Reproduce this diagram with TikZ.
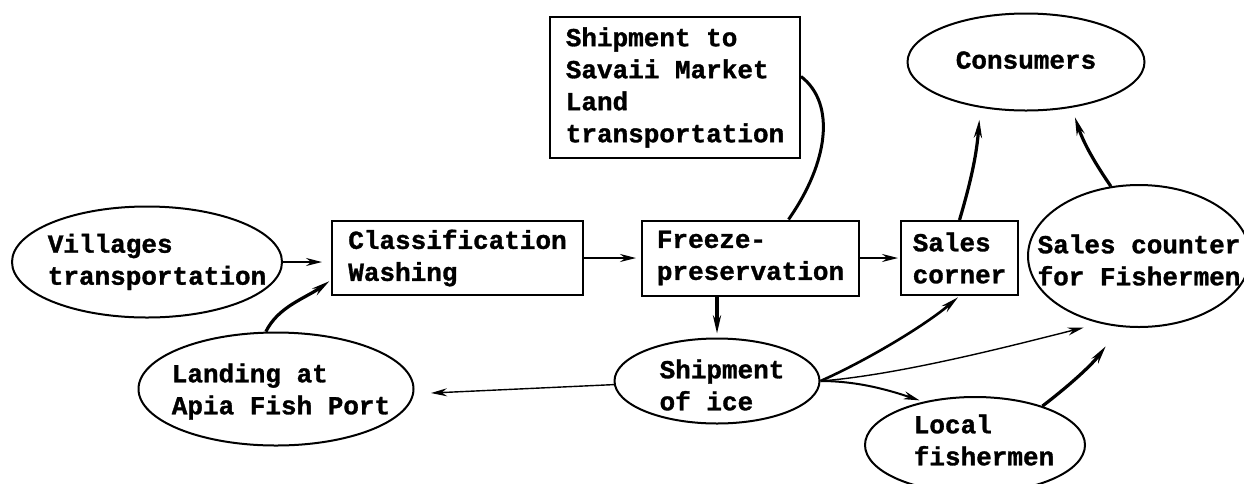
\documentclass[tikz,border=0pt]{standalone}
\usepackage{fontspec}
\setmonofont{Liberation Mono}[BoldFeatures={FakeBold=1.2}]
\usetikzlibrary{arrows.meta,positioning,shapes.geometric}
% text of an oval, kept out of the oval's size (x shift, raise, lines)
\newcommand\ovaltext[3]{\makebox[0pt]{\hspace*{#1}\raisebox{\dimexpr#2-6.5pt\relax}[0pt][0pt]{\begin{tabular}{@{}l@{}}#3\end{tabular}}}}
\tikzset{
  stage/.style={
    draw,
    line width=2pt,
    align=left,
    inner sep=0pt,
    font=\ttfamily\bfseries\fontsize{26}{32}\selectfont
  },
  oval/.style={
    ellipse,
    draw,
    line width=2pt,
    inner sep=0pt,
    font=\ttfamily\bfseries\fontsize{26}{32}\selectfont
  },
  flow/.style={
    -{Stealth[length=16pt,width=8pt]},
    line width=1.4pt
  },
  heavy/.style={
    -{Stealth[length=18pt,width=8pt]},
    line width=3.2pt
  }
}

\begin{document}
\begin{tikzpicture}[x=1pt,y=-1pt]
\useasboundingbox (0,0) rectangle (1244,483);
% main line
\node[oval, minimum width=270pt, minimum height=111pt] (villages) at (147,262) {\ovaltext{20pt}{0pt}{Villages\\transportation}};
\node[stage, minimum width=251pt, minimum height=74pt] (classif) at (457.5,258) {Classification\\Washing};
\node[stage, minimum width=217pt, minimum height=75pt, right=57pt of classif] (freeze) {Freeze-\\preservation};
\node[stage, minimum width=117pt, minimum height=74pt, right=40pt of freeze] (corner) {Sales\\corner};
\node[stage, minimum width=250pt, minimum height=141pt] (savaii) at (675,87.5) {Shipment to\\Savaii Market\\Land\\transportation};
% ovals
\node[oval, minimum width=275pt, minimum height=113pt] (landing) at (276,389) {\ovaltext{10pt}{-2.6pt}{Landing at\\Apia Fish Port}};
\node[oval, minimum width=205pt, minimum height=85pt] (ice) at (717,381) {\ovaltext{10pt}{-6.6pt}{Shipment\\of ice}};
\node[oval, minimum width=237pt, minimum height=97pt] (consumers) at (1026,62) {\ovaltext{0pt}{0pt}{Consumers}};
\node[oval, minimum width=222pt, minimum height=142pt] (counter) at (1139,256) {\ovaltext{0pt}{-6.6pt}{Sales counter\\for Fishermen}};
\node[oval, minimum width=220pt, minimum height=96pt] (local) at (975,445) {\ovaltext{18pt}{2.4pt}{Local\\fishermen}};

\draw[flow, shorten >=9pt] (villages.east) -- (villages.east -| classif.west);
\draw[heavy, shorten >=2pt] (landing.100) .. controls +(12,-25) and +(-25,18) .. ([yshift=-22pt]classif.west);
\draw[flow, shorten >=5pt] (classif) -- (freeze);
\draw[flow, shorten >=2pt] (freeze) -- (corner);
\draw[line width=3pt] ([xshift=38pt]freeze.north) .. controls +(40,-57) and +(35,27) .. (savaii.5);
\draw[heavy, shorten >=4pt] (freeze.south -| ice.north) -- (ice.north);
% shipment of ice
\draw[flow, shorten >=17pt] (ice.182) -- (landing.358);
\draw[heavy, line width=2.6pt, shorten >=2pt] (ice.east) .. controls +(45,-20) and +(-35,30) .. (corner.south);
\draw[flow, shorten >=17pt] (ice.east) .. controls +(80,-6) and +(-80,20) .. (counter.240);
\draw[flow, line width=2pt, shorten >=4pt] (ice.east) .. controls +(40,0) and +(-30,-10) .. (local.140);
% to the consumers
\draw[heavy, shorten >=24pt] (local.30) to[bend right=8] (counter.255);
\draw[heavy, shorten >=12pt] (corner.north) to[bend right=6] (consumers.225);
\draw[heavy, shorten >=10pt] (counter.112) to[bend left=8] (consumers.315);
\end{tikzpicture}
\end{document}
